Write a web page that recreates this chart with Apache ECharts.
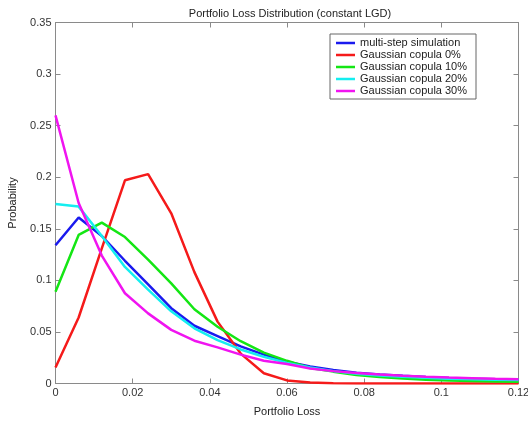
<!DOCTYPE html>
<html>
<head>
<meta charset="utf-8">
<script src="https://cdn.jsdelivr.net/npm/echarts@6/dist/echarts.min.js"></script>
<style>
  html, body { margin: 0; padding: 0; background: #fff; }
  #chart { width: 528px; height: 423px; }
</style>
</head>
<body>
<div id="chart"></div>
<script>
// Portfolio loss grid (fraction of notional)
const lossGrid = [0, 0.006, 0.012, 0.018, 0.024, 0.030, 0.036, 0.042, 0.048, 0.054,
  0.060, 0.066, 0.072, 0.078, 0.084, 0.090, 0.096, 0.102, 0.108, 0.114, 0.120];

// Probability of each loss level
const multiStep = [0.134, 0.161, 0.143, 0.119, 0.096, 0.073, 0.056, 0.046, 0.036, 0.028,
  0.021, 0.0165, 0.013, 0.0105, 0.0088, 0.0074, 0.0063, 0.0054, 0.0047, 0.0041, 0.0036];
const copula0 = [0.0155, 0.064, 0.131, 0.197, 0.203, 0.165, 0.108, 0.060, 0.029, 0.010,
  0.003, 0.001, 0.0003, 0, 0, 0, 0, 0, 0, 0, 0];
const copula10 = [0.089, 0.144, 0.156, 0.142, 0.120, 0.097, 0.072, 0.055, 0.041, 0.030,
  0.022, 0.015, 0.0115, 0.0082, 0.0062, 0.0048, 0.0037, 0.0029, 0.0024, 0.0020, 0.0018];
const copula20 = [0.174, 0.1715, 0.143, 0.113, 0.091, 0.070, 0.0535, 0.042, 0.033, 0.026,
  0.020, 0.0155, 0.012, 0.0095, 0.0078, 0.0065, 0.0055, 0.0047, 0.0041, 0.0036, 0.0033];
const copula30 = [0.260, 0.175, 0.124, 0.0875, 0.068, 0.052, 0.0415, 0.035, 0.028, 0.022,
  0.019, 0.0145, 0.012, 0.0102, 0.0088, 0.0076, 0.0066, 0.0057, 0.0051, 0.0045, 0.0041];

const seriesNames = ['multi-step simulation', 'Gaussian copula 0%', 'Gaussian copula 10%',
  'Gaussian copula 20%', 'Gaussian copula 30%'];
const seriesValues = [multiStep, copula0, copula10, copula20, copula30];
const seriesColors = ['#1a1aee', '#f51a1a', '#14e614', '#14eef0', '#f014f0'];

const FONT = '"Liberation Sans", Arial, sans-serif';
const AXIS_GREY = '#8a8a8a';
const fmt = v => String(+(+v).toFixed(3));

function axisCommon(showLabels) {
  return {
    axisLine: { show: true, onZero: false, lineStyle: { color: AXIS_GREY, width: 1 } },
    axisTick: { show: true, inside: true, length: 5, lineStyle: { color: AXIS_GREY } },
    axisLabel: { show: showLabels, color: '#333', fontSize: 11, fontFamily: FONT, margin: 4, formatter: fmt },
    splitLine: { show: false }
  };
}

const chart = echarts.init(document.getElementById('chart'), null, { renderer: 'canvas' });

chart.setOption({
  animation: false,
  backgroundColor: '#fff',
  title: {
    text: 'Portfolio Loss Distribution (constant LGD)',
    left: 285, top: 3, textAlign: 'center',
    textStyle: { fontSize: 11, fontWeight: 'normal', color: '#222', fontFamily: FONT }
  },
  grid: {
    left: 55.5, right: 9.5, top: 22.5, bottom: 39.5,
    containLabel: false, outerBoundsMode: 'none'
  },
  legend: {
    orient: 'vertical',
    left: 330, top: 34,
    padding: [3, 9, 2, 6],
    itemGap: 0,
    itemWidth: 19, itemHeight: 2.5,
    itemTextGap: 6,
    icon: 'rect',
    borderColor: '#666', borderWidth: 1,
    backgroundColor: '#fff',
    textStyle: { fontSize: 11, color: '#222', fontFamily: FONT, lineHeight: 12 },
    data: seriesNames
  },
  xAxis: [
    Object.assign({
      type: 'value', position: 'bottom', min: 0, max: 0.12, interval: 0.02,
      name: 'Portfolio Loss', nameLocation: 'middle', nameGap: 23,
      nameTextStyle: { fontSize: 11, color: '#222', fontFamily: FONT }
    }, axisCommon(true)),
    Object.assign({ type: 'value', position: 'top', min: 0, max: 0.12, interval: 0.02 }, axisCommon(false))
  ],
  yAxis: [
    Object.assign({
      type: 'value', position: 'left', min: 0, max: 0.35, interval: 0.05,
      name: 'Probability', nameLocation: 'middle', nameGap: 37,
      nameTextStyle: { fontSize: 11, color: '#222', fontFamily: FONT }
    }, axisCommon(true)),
    Object.assign({ type: 'value', position: 'right', min: 0, max: 0.35, interval: 0.05 }, axisCommon(false))
  ],
  series: seriesNames.map((name, i) => ({
    name: name,
    type: 'line',
    xAxisIndex: 0, yAxisIndex: 0,
    showSymbol: false, symbol: 'none',
    color: seriesColors[i],
    lineStyle: { width: 2.5, color: seriesColors[i] },
    data: lossGrid.map((x, j) => [x, seriesValues[i][j]]),
    z: 2 + i
  }))
});
</script>
</body>
</html>
